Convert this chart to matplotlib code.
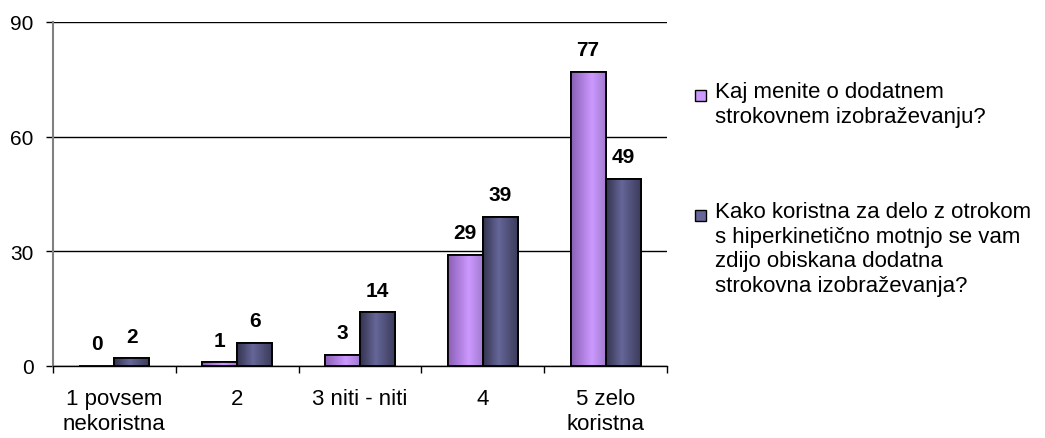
import numpy as np
import matplotlib.pyplot as plt
from matplotlib.colors import LinearSegmentedColormap
from matplotlib.patches import Rectangle

plt.rcParams['font.family'] = ['Liberation Sans', 'DejaVu Sans']

# Survey answers (count of respondents per rating)
categories = ['1 povsem\nnekoristna', '2', '3 niti - niti', '4', '5 zelo\nkoristna']
opinion = [0, 1, 3, 29, 77]
usefulness = [2, 6, 14, 39, 49]
series_names = ['Kaj menite o dodatnem\nstrokovnem izobraževanju?',
                'Kako koristna za delo z otrokom\ns hiperkinetično motnjo se vam\n'
                'zdijo obiskana dodatna\nstrokovna izobraževanja?']

# shaded fills that give the bars a rounded look
purple_cmap = LinearSegmentedColormap.from_list(
    'purple', [(0, '#8a5fb5'), (0.6, '#cc99ff'), (1, '#a27bd0')])
navy_cmap = LinearSegmentedColormap.from_list(
    'navy', [(0, '#34344f'), (0.45, '#666699'), (1, '#3c3c5c')])
face_colors = ['#cc99ff', '#666699']
cmaps = [purple_cmap, navy_cmap]

W, H = 1045, 439
fig = plt.figure(figsize=(W / 100, H / 100), dpi=100)
ax = fig.add_axes([53 / W, 1 - 367 / H, 614 / W, 344 / H])

x = np.arange(len(categories))
w = 0.285
grad = np.linspace(0, 1, 64).reshape(1, -1)

for k, (vals, off) in enumerate([(opinion, -w / 2), (usefulness, w / 2)]):
    bars = ax.bar(x + off, vals, width=w, color=face_colors[k],
                  edgecolor='black', linewidth=1.3, zorder=3)
    for bar, v in zip(bars, vals):
        if v > 0:
            im = ax.imshow(grad, cmap=cmaps[k], aspect='auto', zorder=3.5,
                           extent=(bar.get_x(), bar.get_x() + bar.get_width(), 0, v))
            im.set_clip_path(bar)
            ax.add_patch(Rectangle((bar.get_x(), 0), bar.get_width(), v, fill=False,
                                   edgecolor='black', linewidth=1.3, zorder=4))
        ax.annotate(f'{v}', (bar.get_x() + bar.get_width() / 2, v),
                    xytext=(0, 12), textcoords='offset points',
                    ha='center', va='baseline', fontsize=15, fontweight='bold')

ax.set_xlim(-0.5, len(categories) - 0.5)
ax.set_ylim(0, 90)
ax.set_yticks([0, 30, 60, 90])
ax.yaxis.grid(True, color='black', linewidth=1)
ax.set_axisbelow(True)

ax.set_xticks(x)
ax.set_xticklabels(categories, fontsize=16, linespacing=1.23)
ax.set_xticks(np.arange(len(categories) + 1) - 0.5, minor=True)
ax.tick_params(axis='x', which='major', length=0, pad=16)
ax.tick_params(axis='x', which='minor', length=5, width=1, color='black', direction='out')
ax.tick_params(axis='y', labelsize=15, length=5, width=1, color='black', pad=9)

for side in ['top', 'right']:
    ax.spines[side].set_visible(False)
ax.spines['left'].set_color('#808080')
ax.spines['left'].set_linewidth(1.5)
ax.spines['bottom'].set_color('black')
ax.spines['bottom'].set_linewidth(1)

# legend boxes with the text next to them
box_top = [91, 211]
for k, (name, top) in enumerate(zip(series_names, box_top)):
    fig.patches.append(Rectangle((695 / W, 1 - (top + 11) / H), 11 / W, 11 / H,
                                 transform=fig.transFigure, facecolor=face_colors[k],
                                 edgecolor='black', linewidth=1))
    fig.text(715 / W, 1 - (top - 9) / H, name, fontsize=16, va='top', ha='left',
             linespacing=1.23)

fig.savefig('out.png', dpi=100)
